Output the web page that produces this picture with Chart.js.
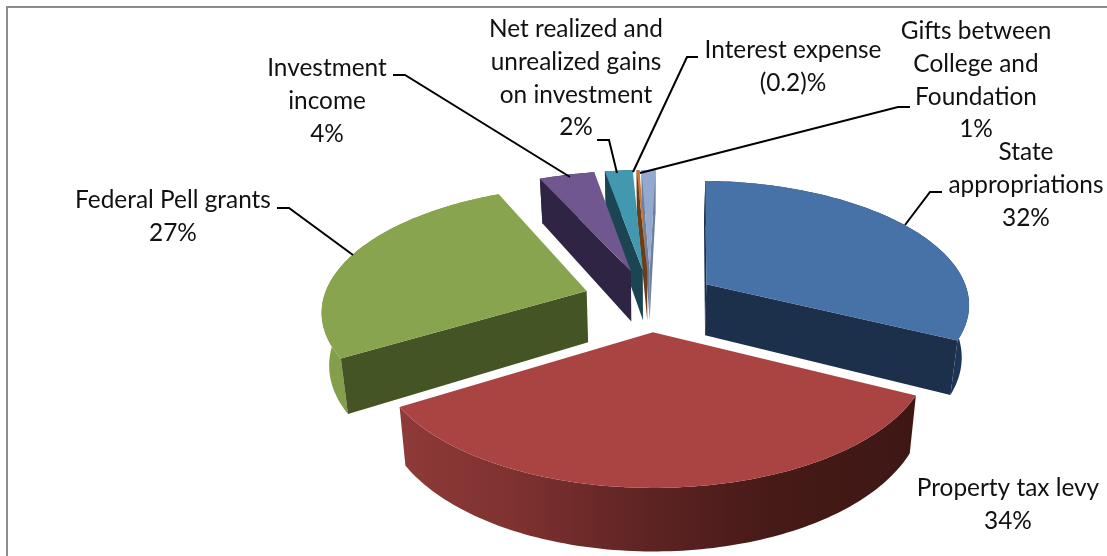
<!DOCTYPE html>
<html lang="en">
<head>
    <meta charset="UTF-8">
    <title>Revenue sources</title>
    <script src="https://cdn.jsdelivr.net/npm/chart.js"></script>
    <style>
        html, body { margin: 0; background: #fff; overflow: hidden; }
        canvas { display: block; }
    </style>
</head>
<body>
    <canvas id="pie" width="1107" height="556"></canvas>
    <script>
        // Chart data
        const categories = [
            ['State', 'appropriations'],
            ['Property tax levy'],
            ['Federal Pell grants'],
            ['Investment', 'income'],
            ['Net realized and', 'unrealized gains', 'on investment'],
            ['Interest expense'],
            ['Gifts between', 'College and', 'Foundation']
        ];
        const values = [32, 34, 27, 4, 2, 0.2, 1];
        const valueLabels = ['32%', '34%', '27%', '4%', '2%', '(0.2)%', '1%'];

        // Slice colours: top face, radial walls, rim wall
        const topColors = ['#4672A8', '#A94442', '#89A44E', '#70578F', '#4198AF', '#C9783A', '#93A9CF'];
        const sideColors = ['#1C2F4B', '#3E1714', '#445424', '#2F2444', '#1B4552', '#6B3E1A', '#6F7F9C'];
        const rimColors = ['#1F3558', null, '#839F4C', '#3A2C55', '#1F5262', '#7A4A20', '#7F90B0'];
        const redRimStops = [[0, '#8E3A38'], [0.22, '#7F3230'], [0.47, '#5F2424'], [0.72, '#461A17'], [1, '#3E1714']];

        // Label anchors: centre x and first baseline
        const labelX = [1026, 1008, 173, 327, 576, 793, 976];
        const labelY = [160, 496, 208, 76, 37, 58, 39];
        const lineHeight = 32.8;
        const labelFont = '24.4px Lato';

        const leaders = [
            [[905, 225], [930, 192], [942, 192]],
            null,
            [[353, 255], [289, 208], [277, 208]],
            [[570, 177], [405, 75], [393, 75]],
            [[617, 173], [609, 140], [597, 140]],
            [[633, 172], [687, 57], [698, 57]],
            [[640, 173], [898, 107], [910, 107]]
        ];

        // Simple camera for the tilted pie
        const camera = { cx: 650, cy: 300, size: 1.03, gap: 67, tilt: 0.465, persp: 0.00055, depth: 52, shrink: 0.023 };

        function project(u, v, low) {
            const w = 1 / (1 - camera.persp * v);
            const sx = low ? 1 - camera.shrink : 1;
            return {
                x: camera.cx + u * w * sx,
                y: camera.cy + camera.tilt * v * w + (low ? camera.depth * w : 0)
            };
        }

        function fillPoly(ctx, pts, color) {
            ctx.beginPath();
            pts.forEach((p, i) => i ? ctx.lineTo(p.x, p.y) : ctx.moveTo(p.x, p.y));
            ctx.closePath();
            ctx.fillStyle = color;
            ctx.fill();
        }

        // Rim band as one path of small quads, keeps the outline tangent at the sides
        function fillRim(ctx, top, low, color) {
            ctx.beginPath();
            for (let k = 0; k < top.length - 1; k++) {
                ctx.moveTo(top[k].x, top[k].y);
                ctx.lineTo(top[k + 1].x, top[k + 1].y);
                ctx.lineTo(low[k + 1].x, low[k + 1].y);
                ctx.lineTo(low[k].x, low[k].y);
                ctx.closePath();
            }
            ctx.fillStyle = color;
            ctx.fill();
        }

        function drawSlice(ctx, arc, i) {
            const R = arc.outerRadius * camera.size;
            const mid = (arc.startAngle + arc.endAngle) / 2;
            const ax = camera.gap * Math.cos(mid);
            const ay = camera.gap * Math.sin(mid);
            const steps = Math.max(4, Math.ceil((arc.endAngle - arc.startAngle) / 0.02));
            const rimTop = [];
            const rimLow = [];
            for (let k = 0; k <= steps; k++) {
                const a = arc.startAngle + (arc.endAngle - arc.startAngle) * k / steps;
                const u = ax + R * Math.cos(a);
                const v = ay + R * Math.sin(a);
                rimTop.push(project(u, v, false));
                rimLow.push(project(u, v, true));
            }
            const apexTop = project(ax, ay, false);
            const apexLow = project(ax, ay, true);
            const inner = rimTop[Math.floor(steps / 2)];

            // Rim wall, shaded across its width on the big front slice
            let rimFill = rimColors[i];
            if (!rimFill) {
                const xs = rimTop.map(p => p.x);
                rimFill = ctx.createLinearGradient(Math.min(...xs), 0, Math.max(...xs), 0);
                redRimStops.forEach(s => rimFill.addColorStop(s[0], s[1]));
            }
            fillRim(ctx, rimTop, rimLow, rimFill);

            // Radial walls, only the ones turned towards the viewer
            [[rimTop[0], rimLow[0]], [rimTop[steps], rimLow[steps]]].forEach(([top, low]) => {
                const ex = top.x - apexTop.x;
                const ey = top.y - apexTop.y;
                const side = ex * (inner.y - apexTop.y) - ey * (inner.x - apexTop.x);
                if (side * ex < 0) {
                    fillPoly(ctx, [apexTop, top, low, apexLow], sideColors[i]);
                }
            });

            fillPoly(ctx, [apexTop].concat(rimTop), topColors[i]);
        }

        const pie3d = {
            id: 'pie3d',
            // The flat arcs are replaced by their projected versions
            beforeDatasetsDraw(chart) {
                const ctx = chart.ctx;
                const arcs = chart.getDatasetMeta(0).data;
                const order = arcs.map((a, i) => i).sort((p, q) =>
                    Math.sin((arcs[p].startAngle + arcs[p].endAngle) / 2) - Math.sin((arcs[q].startAngle + arcs[q].endAngle) / 2));
                ctx.save();
                order.forEach(i => drawSlice(ctx, arcs[i], i));
                ctx.restore();
                return false;
            },
            afterDraw(chart) {
                const ctx = chart.ctx;
                ctx.save();

                // Frame along the top and left edges
                ctx.strokeStyle = '#8C8C8C';
                ctx.lineWidth = 2;
                ctx.beginPath();
                ctx.moveTo(7, 556);
                ctx.lineTo(7, 7);
                ctx.lineTo(1107, 7);
                ctx.stroke();

                ctx.strokeStyle = '#000';
                ctx.lineWidth = 2;
                leaders.forEach(line => {
                    if (!line) return;
                    ctx.beginPath();
                    line.forEach((p, k) => k ? ctx.lineTo(p[0], p[1]) : ctx.moveTo(p[0], p[1]));
                    ctx.stroke();
                });

                ctx.fillStyle = '#111';
                ctx.font = labelFont;
                ctx.textAlign = 'center';
                ctx.textBaseline = 'alphabetic';
                categories.forEach((lines, i) => {
                    lines.concat(valueLabels[i]).forEach((text, k) => {
                        ctx.fillText(text, labelX[i], labelY[i] + k * lineHeight);
                    });
                });
                ctx.restore();
            }
        };

        new Chart(document.getElementById('pie'), {
            type: 'pie',
            data: {
                labels: categories.map(c => c.join(' ')),
                datasets: [{ data: values, backgroundColor: topColors, borderWidth: 0 }]
            },
            options: {
                responsive: false,
                animation: false,
                rotation: 1.5,
                layout: { padding: { left: 193, top: 44 } },
                plugins: { legend: { display: false }, tooltip: { enabled: false } }
            },
            plugins: [pie3d]
        });
    </script>
</body>
</html>
